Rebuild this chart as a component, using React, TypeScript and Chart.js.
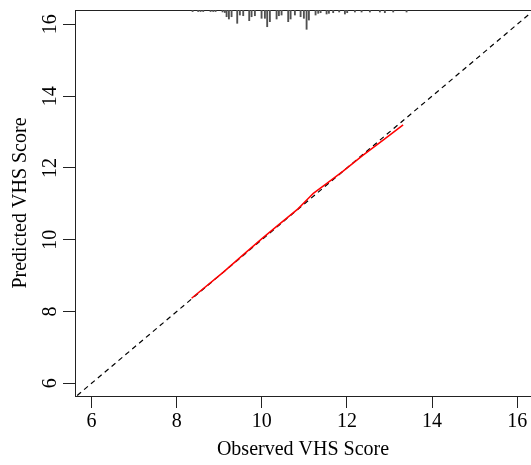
import React, { useEffect, useRef } from "react";
import { Chart, registerables } from "chart.js";

Chart.register(...registerables);

// Axis definitions
const xTicks = [6, 8, 10, 12, 14, 16];
const yTicks = [6, 8, 10, 12, 14, 16];
const xMin = 5.61;
const xMax = 16.325;
const yMin = 5.646;
const yMax = 16.4;

// Ideal (y = x) reference line end points
const identityX = [5.5, 16.5];

// Calibration curve (observed vs predicted)
const calX = [8.35, 9.09, 9.6, 10.03, 10.42, 10.85, 11.09, 11.21, 11.52, 11.91, 12.38, 12.85, 13.32];
const calY = [8.37, 9.09, 9.62, 10.06, 10.44, 10.86, 11.15, 11.29, 11.56, 11.91, 12.355, 12.775, 13.2];

// Distribution of predictions (spike histogram at top)
const rugX = [
  8.373, 8.505, 8.561, 8.623, 8.796, 8.858, 8.913, 9.078, 9.132, 9.172, 9.226, 9.289,
  9.422, 9.484, 9.563, 9.704, 9.759, 9.837, 9.994, 10.072, 10.126, 10.189, 10.347, 10.401,
  10.464, 10.62, 10.676, 10.777, 10.911, 10.988, 11.052, 11.106, 11.263, 11.325, 11.381,
  11.522, 11.576, 11.677, 11.818, 11.952, 12.006, 12.187, 12.344, 12.539, 12.774, 12.891,
  13.087, 13.401,
];
const rugFreq = [
  0.4, 0.4, 0.4, 0.4, 0.4, 0.4, 0.4, 0.5, 0.65, 1.74, 2.33, 1.74,
  3.45, 1.3, 1.48, 2.77, 1.74, 1.48, 2.15, 2.15, 4.33, 3.03, 2.33, 1.48,
  1.3, 3.03, 2.33, 1.3, 1.74, 2.15, 5.0, 2.6, 1.3, 0.86, 0.7,
  1.04, 0.86, 0.7, 0.52, 1.04, 0.7, 0.52, 0.52, 0.52, 0.52, 0.7,
  0.52, 0.52,
];

export default function App() {
  const ref = useRef<HTMLCanvasElement>(null);

  useEffect(() => {
    const font = { family: "'Liberation Serif', 'Times New Roman', serif", size: 20 };
    const axisColor = "#222";
    const chart = new Chart(ref.current!, {
      type: "line",
      data: {
        datasets: [
          {
            type: "bar",
            label: "Predictions",
            data: rugX.map((x, i) => ({ x, y: rugFreq[i] })),
            xAxisID: "x",
            yAxisID: "yRug",
            backgroundColor: "#505050",
            borderWidth: 0,
            barThickness: 1.2,
            order: 3,
          } as any,
          {
            type: "line",
            label: "Ideal",
            data: identityX.map((v) => ({ x: v, y: v })),
            xAxisID: "x",
            yAxisID: "y",
            borderColor: "#000",
            borderWidth: 1.2,
            borderDash: [5, 4],
            pointRadius: 0,
            fill: false,
            order: 2,
          },
          {
            type: "line",
            label: "Calibration",
            data: calX.map((x, i) => ({ x, y: calY[i] })),
            xAxisID: "x",
            yAxisID: "y",
            borderColor: "#ff0000",
            borderWidth: 1.5,
            pointRadius: 0,
            tension: 0,
            fill: false,
            order: 1,
          },
        ],
      },
      options: {
        responsive: false,
        animation: false,
        layout: { padding: { left: 0, top: 10, right: 0, bottom: 0 } },
        plugins: { legend: { display: false }, tooltip: { enabled: false } },
        scales: {
          x: {
            type: "linear",
            position: "bottom",
            offset: false,
            min: xMin,
            max: xMax,
            afterBuildTicks: (s: any) => {
              s.ticks = xTicks.map((v) => ({ value: v }));
            },
            afterFit: (s: any) => {
              s.height = 69;
              s.paddingLeft = 0;
              s.paddingRight = 0;
            },
            ticks: { font, color: "#000", padding: 2, minRotation: 0, maxRotation: 0, autoSkip: false },
            grid: { display: true, offset: false, drawOnChartArea: false, drawTicks: true, tickLength: 12, tickColor: axisColor, tickWidth: 1 },
            border: { display: true, color: axisColor, width: 1 },
            title: { display: true, text: "Observed VHS Score", font, color: "#000", padding: { top: 0, bottom: 3 } },
          },
          x2: {
            type: "linear",
            position: "top",
            offset: false,
            min: xMin,
            max: xMax,
            ticks: { display: false },
            grid: { display: false, offset: false, drawTicks: false },
            border: { display: true, color: axisColor, width: 1 },
            afterFit: (s: any) => {
              s.height = 0;
            },
          },
          y: {
            type: "linear",
            position: "left",
            min: yMin,
            max: yMax,
            afterBuildTicks: (s: any) => {
              s.ticks = yTicks.map((v) => ({ value: v }));
            },
            afterFit: (s: any) => {
              s.width = 75;
              s.paddingTop = 0;
              s.paddingBottom = 0;
            },
            ticks: { font, color: "#000", padding: 2.5, minRotation: 90, maxRotation: 90, crossAlign: "center", autoSkip: false },
            grid: { display: true, drawOnChartArea: false, drawTicks: true, tickLength: 12, tickColor: axisColor, tickWidth: 1 },
            border: { display: true, color: axisColor, width: 1 },
            title: { display: true, text: "Predicted VHS Score", font, color: "#000", padding: { top: 9, bottom: 0 } },
          },
          yRug: {
            type: "linear",
            display: false,
            reverse: true,
            min: 0,
            max: 100,
          },
        },
      } as any,
    });
    return () => chart.destroy();
  }, []);

  return (
    <div style={{ position: "fixed", left: 0, top: 0, width: 531, height: 465, background: "#fff" }}>
      <canvas ref={ref} width={531} height={465} style={{ display: "block", width: 531, height: 465 }} />
    </div>
  );
}
